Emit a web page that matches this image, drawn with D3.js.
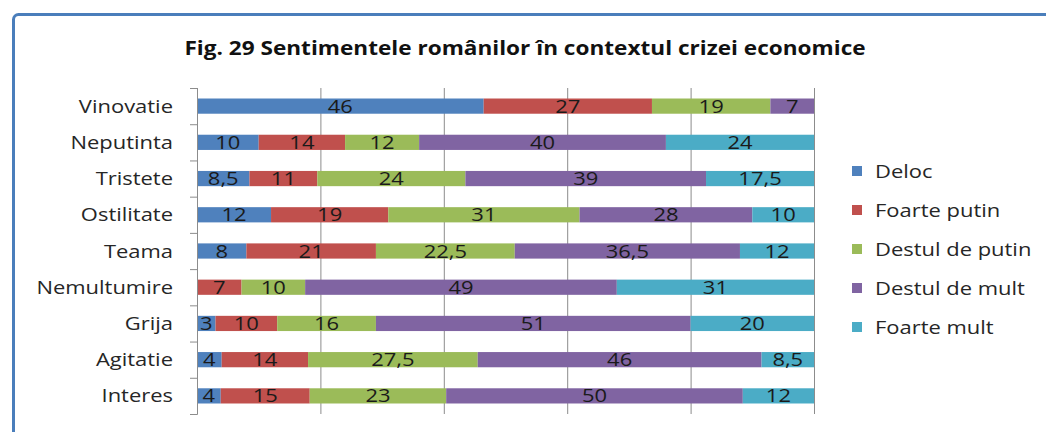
<!DOCTYPE html>
<html>
<head>
<meta charset="utf-8">
<script src="https://cdn.jsdelivr.net/npm/d3@7"></script>
<style>
  body { margin: 0; background: white; overflow: hidden; }
  svg { display: block; }
  text { font-family: "Open Sans", sans-serif; }
</style>
</head>
<body>
<div id="chart"></div>
<script>
// data
var categories = ["Vinovatie", "Neputinta", "Tristete", "Ostilitate", "Teama", "Nemultumire", "Grija", "Agitatie", "Interes"];
var seriesNames = ["Deloc", "Foarte putin", "Destul de putin", "Destul de mult", "Foarte mult"];
var deloc         = [46, 10, 8.5, 12, 8, 0, 3, 4, 4];
var foartePutin   = [27, 14, 11, 19, 21, 7, 10, 14, 15];
var destulDePutin = [19, 12, 24, 31, 22.5, 10, 16, 27.5, 23];
var destulDeMult  = [7, 40, 39, 28, 36.5, 49, 51, 46, 50];
var foarteMult    = [0, 24, 17.5, 10, 12, 31, 20, 8.5, 12];
var xTicks = [0, 20, 40, 60, 80, 100];
var colors = ["#4F81BD", "#C0504D", "#9BBB59", "#8064A2", "#4BACC6"];

var W = 1046, H = 432;
var SX = 1.22; // the source picture is stretched sideways

var margin = { top: 88, left: 197, right: 232, bottom: 18 };
var plotW = W - margin.left - margin.right,
    plotH = H - margin.top - margin.bottom;

var svg = d3.select("#chart")
   .append("svg")
   .attr("width", W)
   .attr("height", H);

// frame
svg.append("rect")
   .attr("x", 13.5).attr("y", 14.5)
   .attr("width", 1100).attr("height", 500)
   .attr("rx", 5)
   .attr("fill", "white")
   .attr("stroke", "#4A7EBB")
   .attr("stroke-width", 3);

// stretched text helper
function label(sel, x, y, txt, sx) {
   return sel.append("text")
      .attr("transform", "translate(" + x + "," + y + ") scale(" + (sx || SX) + ",1)")
      .text(txt);
}

// title
label(svg, 525, 55, "Fig. 29 Sentimentele românilor în contextul crizei economice", 1.13)
   .attr("text-anchor", "middle")
   .style("font-weight", "bold")
   .style("font-size", "20px")
   .attr("fill", "#111");

var g = svg.append("g")
   .attr("transform", "translate(" + margin.left + "," + margin.top + ")");

var x = d3.scaleLinear().domain([0, 100]).range([0, plotW]);
var y = d3.scaleBand().domain(categories).range([0, plotH])
   .paddingInner(0.58).paddingOuter(0.29);

// gridlines
g.append("g")
   .attr("transform", "translate(0," + plotH + ")")
   .call(d3.axisBottom(x).tickValues(xTicks).tickSize(-plotH).tickFormat(""))
   .call(function (a) {
      a.select(".domain").remove();
      a.selectAll("line").attr("stroke", "#8c8c8c");
   });

// rows -> normalised stack
var rows = categories.map(function (c, i) {
   var vals = [deloc[i], foartePutin[i], destulDePutin[i], destulDeMult[i], foarteMult[i]];
   var total = d3.sum(vals);
   var r = { cat: c };
   seriesNames.forEach(function (s, k) { r[s] = vals[k] / total * 100; r[s + "_raw"] = vals[k]; });
   return r;
});
var stack = d3.stack().keys(seriesNames)(rows);

var layer = g.selectAll(".layer")
   .data(stack)
   .enter().append("g")
   .attr("fill", function (d, i) { return colors[i]; });

layer.selectAll("rect")
   .data(function (d) { return d; })
   .enter().append("rect")
   .attr("x", function (d) { return x(d[0]); })
   .attr("y", function (d) { return y(d.data.cat); })
   .attr("width", function (d) { return x(d[1]) - x(d[0]); })
   .attr("height", y.bandwidth());

// value labels
stack.forEach(function (s) {
   s.forEach(function (d) {
      var raw = d.data[s.key + "_raw"];
      if (!raw) return;
      label(g, (x(d[0]) + x(d[1])) / 2, y(d.data.cat) + y.bandwidth() / 2 + 6.5, String(raw).replace(".", ","))
         .attr("text-anchor", "middle")
         .style("font-size", "18px")
         .attr("fill", "#1a1a1a");
   });
});

// left axis with tick marks between categories
var yl = d3.scaleLinear().domain([0, categories.length]).range([0, plotH]);
g.append("g")
   .call(d3.axisLeft(yl).tickValues(d3.range(categories.length + 1)).tickSize(7).tickFormat(""))
   .call(function (a) {
      a.select(".domain").attr("stroke", "#8c8c8c");
      a.selectAll("line").attr("stroke", "#8c8c8c");
   });

// category names
categories.forEach(function (c) {
   label(g, -24, y(c) + y.bandwidth() / 2 + 6.5, c)
      .attr("text-anchor", "end")
      .style("font-size", "18px")
      .attr("fill", "#262626");
});

// legend
var legend = svg.append("g").attr("transform", "translate(852,166)");
seriesNames.forEach(function (s, i) {
   var row = legend.append("g").attr("transform", "translate(0," + i * 39 + ")");
   row.append("rect").attr("width", 10).attr("height", 10).attr("fill", colors[i]);
   label(row, 23, 11.5, s)
      .style("font-size", "18px")
      .attr("fill", "#262626");
});
</script>
</body>
</html>
